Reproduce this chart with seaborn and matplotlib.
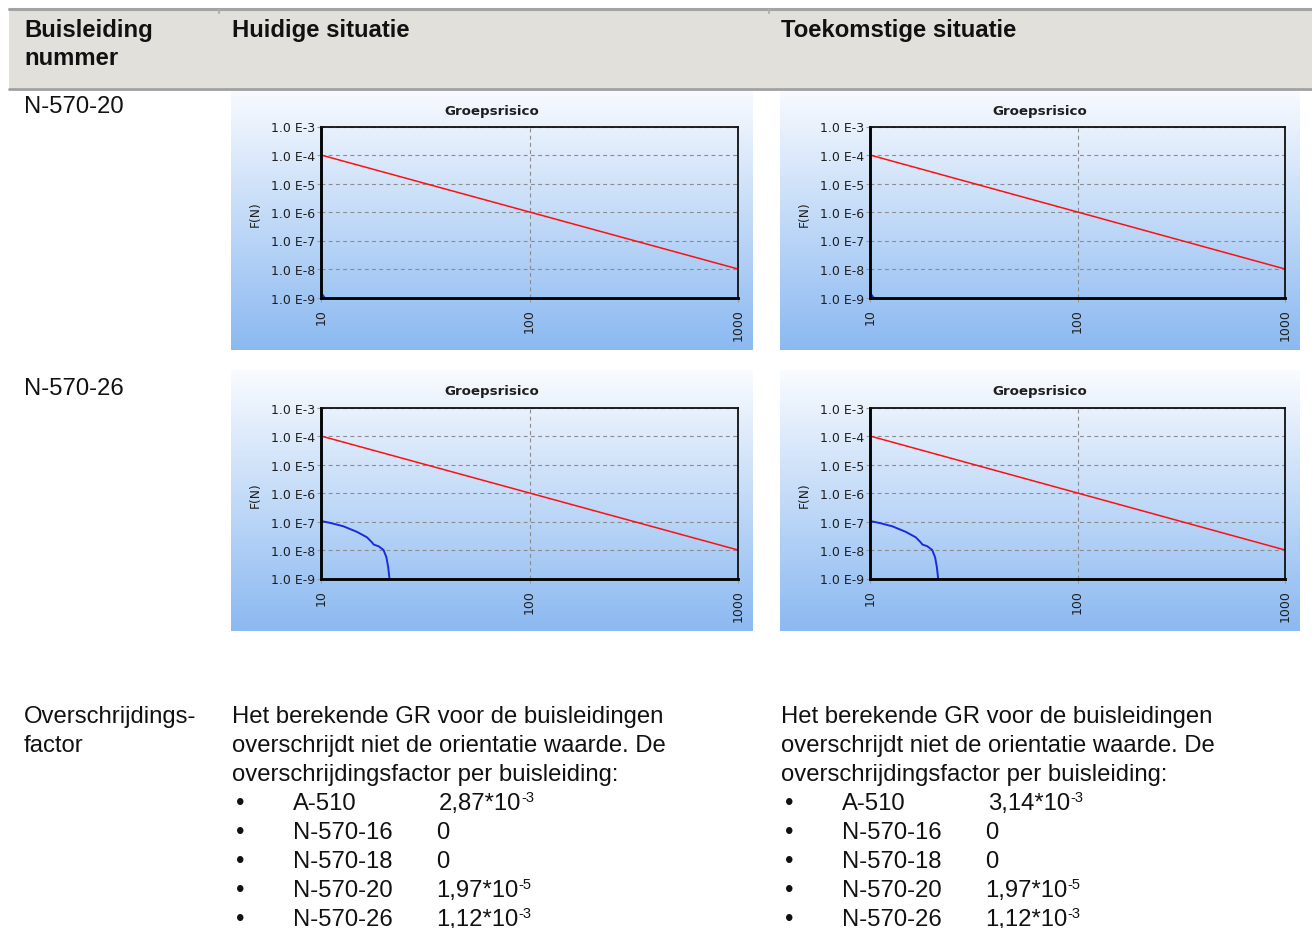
import numpy as np
import pandas as pd
import matplotlib
matplotlib.use("Agg")
import matplotlib.pyplot as plt
import seaborn as sns
from matplotlib.patches import Rectangle
from matplotlib.lines import Line2D
from matplotlib.ticker import FixedLocator, FixedFormatter, NullLocator

# ---------------------------------------------------------------- data
# orientation value line of the group risk (FN) curve
N_ORIENT = [10, 1000]
F_ORIENT = [1e-4, 1e-8]

# FN curve of pipeline N-570-20 (only a tiny tail above 1e-9)
N_570_20_N = [10.0, 10.2, 10.4]
N_570_20_F = [1.5e-9, 1.2e-9, 1.0e-9]

# FN curve of pipeline N-570-26
N_570_26_N = [10.0, 11.1, 12.8, 14.9, 16.6, 17.5, 17.9, 18.9, 19.95, 20.6, 21.0, 21.3]
N_570_26_F = [1.04e-7, 8.9e-8, 6.8e-8, 4.3e-8, 2.8e-8, 1.9e-8, 1.55e-8, 1.35e-8,
              1.0e-8, 5.5e-9, 2.5e-9, 1.0e-9]

X_TICKS = [10, 100, 1000]
X_LABELS = ["10", "100", "1000"]
Y_TICKS = [1e-9, 1e-8, 1e-7, 1e-6, 1e-5, 1e-4, 1e-3]
Y_LABELS = ["1.0 E-9", "1.0 E-8", "1.0 E-7", "1.0 E-6", "1.0 E-5", "1.0 E-4", "1.0 E-3"]

HEADERS = ["Huidige situatie", "Toekomstige situatie"]
ROW_LABELS = ["N-570-20", "N-570-26"]
CHART_TITLE = "Groepsrisico"
Y_TITLE = "F(N)"

INTRO_LINES = ["Het berekende GR voor de buisleidingen",
               "overschrijdt niet de orientatie waarde. De",
               "overschrijdingsfactor per buisleiding:"]
PIPE_NAMES = ["A-510", "N-570-16", "N-570-18", "N-570-20", "N-570-26"]
FACTOR_HUIDIG = ["2,87*10", "0", "0", "1,97*10", "1,12*10"]
EXP_HUIDIG = ["-3", "", "", "-5", "-3"]
FACTOR_TOEKOMST = ["3,14*10", "0", "0", "1,97*10", "1,12*10"]
EXP_TOEKOMST = ["-3", "", "", "-5", "-3"]

# ---------------------------------------------------------------- figure
sns.set_theme(style="white")
plt.rcParams["font.family"] = ["Liberation Sans", "DejaVu Sans"]

W, H = 1312, 929
fig = plt.figure(figsize=(W / 100, H / 100), dpi=100)
fig.patch.set_facecolor("white")


def fx(x):
    return x / W


def fy(y):
    return 1 - y / H


# table header band and borders
fig.patches.append(Rectangle((fx(9), fy(89)), fx(W - 9), 79 / H, transform=fig.transFigure,
                             facecolor="#E1E0DB", edgecolor="none", zorder=0))
fig.lines.append(Line2D([fx(9), fx(W)], [fy(10), fy(10)], transform=fig.transFigure,
                        color="#A3A3A3", lw=2.2, zorder=1))
fig.lines.append(Line2D([fx(9), fx(W)], [fy(89.5), fy(89.5)], transform=fig.transFigure,
                        color="#A0A0A0", lw=2.0, zorder=1))
for xs in (219, 769):
    fig.lines.append(Line2D([fx(xs), fx(xs)], [fy(11), fy(14)], transform=fig.transFigure,
                            color="#B0B0B0", lw=1.5, zorder=1))

BODY = dict(fontsize=17.2, color="#111111", family=["Liberation Sans", "DejaVu Sans"])
BOLD = dict(BODY, fontweight="bold")

fig.text(fx(24), fy(37), "Buisleiding", ha="left", va="baseline", **BOLD)
fig.text(fx(24), fy(65), "nummer", ha="left", va="baseline", **BOLD)
fig.text(fx(232), fy(37), HEADERS[0], ha="left", va="baseline", **BOLD)
fig.text(fx(781), fy(37), HEADERS[1], ha="left", va="baseline", **BOLD)

fig.text(fx(24), fy(113), ROW_LABELS[0], ha="left", va="baseline", **BODY)
fig.text(fx(24), fy(395), ROW_LABELS[1], ha="left", va="baseline", **BODY)

# ---------------------------------------------------------------- charts
grad = np.linspace(0, 1, 256)[:, None]
top_c = np.array([0.978, 0.985, 0.998])
bot_c = np.array([0.545, 0.725, 0.945])
grad_img = top_c[None, None, :] * (1 - grad[..., None]) + bot_c[None, None, :] * grad[..., None]
grad_img = np.repeat(grad_img, 4, axis=1)

curves = {
    0: pd.DataFrame({"N": N_570_20_N, "F": N_570_20_F}),
    1: pd.DataFrame({"N": N_570_26_N, "F": N_570_26_F}),
}
orient = pd.DataFrame({"N": N_ORIENT, "F": F_ORIENT})

# chart panel boxes: left, top, right, bottom and the top of the panel picture
boxes = {(0, 0): (231, 90, 753, 351, 88.5), (0, 1): (780, 90, 1300, 351, 88.5),
         (1, 0): (231, 371, 753, 632, 371), (1, 1): (780, 371, 1300, 632, 371)}

for (row, col), (x0, y0, x1, y1, ytop) in boxes.items():
    bg = fig.add_axes([fx(x0), fy(y1), (x1 - x0) / W, (y1 - ytop) / H], zorder=1)
    bg.imshow(grad_img, aspect="auto", extent=(0, 1, 0, 1), interpolation="bilinear")
    bg.set_axis_off()

    al, ar, at, ab = x0 + 90, x1 - 15, y0 + 37.5, y0 + 208.5
    ax = fig.add_axes([fx(al), fy(ab), (ar - al) / W, (ab - at) / H], zorder=2)
    ax.set_facecolor("none")

    sns.lineplot(data=orient, x="N", y="F", ax=ax, color="#FF1010", lw=1.1,
                 estimator=None, sort=False)
    sns.lineplot(data=curves[row], x="N", y="F", ax=ax, color="#1A2BE0", lw=1.4,
                 estimator=None, sort=False)

    ax.set_xscale("log")
    ax.set_yscale("log")
    ax.set_xlim(X_TICKS[0], X_TICKS[-1])
    ax.set_ylim(Y_TICKS[0], Y_TICKS[-1])
    ax.xaxis.set_major_locator(FixedLocator(X_TICKS))
    ax.xaxis.set_major_formatter(FixedFormatter(X_LABELS))
    ax.yaxis.set_major_locator(FixedLocator(Y_TICKS))
    ax.yaxis.set_major_formatter(FixedFormatter(Y_LABELS))
    ax.xaxis.set_minor_locator(NullLocator())
    ax.yaxis.set_minor_locator(NullLocator())
    ax.set_xlabel("")
    ax.set_ylabel("")

    ax.grid(True, which="major", color="#8C8C8C", lw=0.8, ls=(0, (3.5, 3)))
    for side in ("left", "bottom"):
        ax.spines[side].set_linewidth(2.1)
        ax.spines[side].set_color("#050505")
    for side in ("top", "right"):
        ax.spines[side].set_linewidth(1.3)
        ax.spines[side].set_color("#101010")

    ax.tick_params(axis="y", which="major", left=True, length=3, width=0.8, color="#9A9A9A",
                   pad=1.2, labelsize=9.0, labelcolor="#1E1E1E")
    ax.tick_params(axis="x", which="major", bottom=True, length=3, width=0.8, color="#9A9A9A",
                   pad=5.0, labelsize=9.0, labelcolor="#1E1E1E", labelrotation=90)
    for lab in ax.get_xticklabels() + ax.get_yticklabels():
        lab.set_family("DejaVu Sans")

    fig.text(fx((x0 + x1) / 2), fy(y0 + 21), CHART_TITLE, ha="center", va="center",
             fontsize=9.6, fontweight="bold", color="#1E1E1E", family="DejaVu Sans", zorder=3)
    fig.text(fx(x0 + 24), fy(y0 + 124), Y_TITLE, ha="center", va="center", rotation=90,
             fontsize=8.8, color="#1E1E1E", family="DejaVu Sans", zorder=3)

# ---------------------------------------------------------------- text block
fig.text(fx(24), fy(723), "Overschrijdings-", ha="left", va="baseline", **BODY)
fig.text(fx(24), fy(752), "factor", ha="left", va="baseline", **BODY)

renderer = fig.canvas.get_renderer()
line_base = [723, 752, 781, 810, 839, 868, 897, 926]
columns = [(232, FACTOR_HUIDIG, EXP_HUIDIG), (781, FACTOR_TOEKOMST, EXP_TOEKOMST)]
for cx, factors, exps in columns:
    for i, line in enumerate(INTRO_LINES):
        fig.text(fx(cx), fy(line_base[i]), line, ha="left", va="baseline", **BODY)
    for j, (name, fac, ex) in enumerate(zip(PIPE_NAMES, factors, exps)):
        yb = line_base[3 + j]
        fig.text(fx(cx + 8), fy(yb), "\u2022", ha="center", va="baseline", **BODY)
        fig.text(fx(cx + 61), fy(yb), name, ha="left", va="baseline", **BODY)
        xv = cx + 204 + (3 if name == "A-510" else 0)
        t = fig.text(fx(xv), fy(yb), fac, ha="left", va="baseline", **BODY)
        if ex:
            bb = t.get_window_extent(renderer)
            fig.text(bb.x1 / W, fy(yb - 7.5), ex, ha="left", va="baseline",
                     fontsize=10.5, color="#111111", family=["Liberation Sans", "DejaVu Sans"])

fig.savefig("out.png", dpi=100, facecolor="white")
